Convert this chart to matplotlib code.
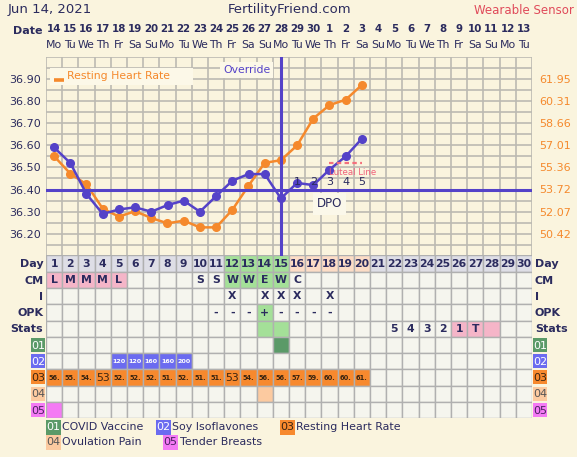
import numpy as np
import matplotlib
matplotlib.use("Agg")
import matplotlib.pyplot as plt
from matplotlib.patches import Rectangle

W, H = 577, 457

NAVY = "#2b2b5e"
BLUE = "#5442c8"
ORANGE = "#f5892c"
BG = "#faf4de"
CELL = "#f5f5ee"
EDGE = "#b0b0b0"
GRID = "#bcbab2"

days = list(range(1, 21))
date_nums = ["14", "15", "16", "17", "18", "19", "20", "21", "22", "23", "24", "25", "26", "27", "28",
             "29", "30", "1", "2", "3", "4", "5", "6", "7", "8", "9", "10", "11", "12", "13"]
weekdays = ["Mo", "Tu", "We", "Th", "Fr", "Sa", "Su", "Mo", "Tu", "We", "Th", "Fr", "Sa", "Su", "Mo",
            "Tu", "We", "Th", "Fr", "Sa", "Su", "Mo", "Tu", "We", "Th", "Fr", "Sa", "Su", "Mo", "Tu"]

temps = [36.59, 36.52, 36.38, 36.29, 36.31, 36.32, 36.30, 36.33, 36.35, 36.30,
         36.37, 36.44, 36.47, 36.47, 36.36, 36.43, 36.42, 36.49, 36.55, 36.63]
hr = [56.2, 54.9, 54.1, 52.3, 51.7, 52.1, 51.6, 51.2, 51.4, 50.9,
      50.9, 52.2, 54.0, 55.7, 55.9, 57.0, 59.0, 60.0, 60.4, 61.5]
hr_labels = ["56.", "55.", "54.", "53", "52.", "52.", "52.", "51.", "52.", "51.",
             "51.", "53", "54.", "56.", "56.", "57.", "59.", "60.", "60.", "61."]

temp_ticks = [36.20, 36.30, 36.40, 36.50, 36.60, 36.70, 36.80, 36.90]
hr_ticks = [50.42, 52.07, 53.72, 55.36, 57.01, 58.66, 60.31, 61.95]
coverline = 36.40
override_day = 15
dpo_days = [16, 17, 18, 19, 20]
dpo_nums = ["1", "2", "3", "4", "5"]
luteal_days = [18, 20]
luteal_temp = 36.52

cm_row = ["L", "M", "M", "M", "L", "", "", "", "", "S", "S", "W", "W", "E", "W", "C"] + [""] * 14
sex_days = [12, 14, 15, 16, 18]
opk_neg_days = [11, 12, 13, 15, 16, 17, 18]
opk_pos_days = [14]
stats_text = {22: "5", 23: "4", 24: "3", 25: "2", 26: "1", 27: "T"}
stats_pink = [26, 27, 28]
stats_green = [14, 15]
fertile_days = [12, 13, 14, 15]
luteal_hdr_days = [16, 17, 18, 19, 20]
covid_days = [15]
soy_days = [5, 6, 7, 8, 9]
soy_doses = ["120", "120", "160", "160", "200"]
ovpain_days = [14]
breast_days = [1]

row_names = ["Day", "CM", "I", "OPK", "Stats"]
codes = ["01", "02", "03", "04", "05"]
code_colors = ["#5b9a68", "#6b6bf0", "#f7892e", "#fccaa0", "#f47af4"]
code_text = ["white", "white", "#3a2410", "#555555", "#4a2060"]
legend_names = ["COVID Vaccine", "Soy Isoflavones", "Resting Heart Rate", "Ovulation Pain", "Tender Breasts"]


def px_rect(x0, y0, x1, y1):
    return [x0 / W, 1 - y1 / H, (x1 - x0) / W, (y1 - y0) / H]


def ftext(x, y, s, **kw):
    fig.text(x / W, 1 - y / H, s, **kw)


fig = plt.figure(figsize=(W / 100, H / 100), dpi=100, facecolor=BG)

# header
ftext(8, 10, "Jun 14, 2021", fontsize=9.5, color=NAVY, va="center")
ftext(290, 10, "FertilityFriend.com", fontsize=9.5, color=NAVY, va="center", ha="center")
ftext(574, 10, "Wearable Sensor", fontsize=8.5, color="#e04a5a", va="center", ha="right")
ftext(43, 31, "Date", fontsize=8, color=NAVY, fontweight="bold", va="center", ha="right")

x_left, x_right = 46, 532
col_w = (x_right - x_left) / 30
for i in range(30):
    cx = x_left + (i + 0.5) * col_w
    ftext(cx, 29, date_nums[i], fontsize=7.4, color=NAVY, fontweight="bold", ha="center", va="center")
    ftext(cx, 45, weekdays[i], fontsize=7.8, color=NAVY, ha="center", va="center")

# temperature chart
ax = fig.add_axes(px_rect(x_left, 56.7, x_right, 256))
ax.set_xlim(0.5, 30.5)
ax.set_ylim(36.10, 37.00)
ax.set_xticks([])
ax.set_yticks(temp_ticks)
ax.set_yticklabels([f"{t:.2f}" for t in temp_ticks], fontsize=8, color=NAVY)
ax.tick_params(which="both", length=0, pad=4)
for s in ax.spines.values():
    s.set_visible(False)

ax2 = ax.twinx()
ax2.set_ylim(48.77, 63.60)
ax2.set_yticks(hr_ticks)
ax2.set_yticklabels([f"{v:.2f}" for v in hr_ticks], fontsize=8, color=ORANGE)
ax2.tick_params(length=0, pad=5)
for s in ax2.spines.values():
    s.set_visible(False)

# grid lives on the lower axes so both series sit above it
ax.set_zorder(ax2.get_zorder() + 1)
ax.patch.set_visible(False)
ax2.patch.set_facecolor("#fbf6e2")
ax2.set_yticks(np.linspace(48.77, 63.60, 19), minor=True)
ax2.tick_params(which="minor", length=0)
ax2.grid(which="minor", axis="y", color=GRID, lw=1.2)
ax2.vlines(np.arange(0.5, 30.6, 1), 48.77, 63.60, color=GRID, lw=1.2, zorder=0.5)
ax2.set_axisbelow(True)

ax2.plot(days, hr, color=ORANGE, lw=1.8, marker="o", ms=5.5, zorder=3)
ax.axhline(coverline, color=BLUE, lw=2.2, zorder=4)
ax.axvline(override_day, color=BLUE, lw=2.2, zorder=4)
ax.plot(days, temps, color=BLUE, lw=1.8, marker="o", ms=5.5, zorder=5)

for d, n in zip(dpo_days, dpo_nums):
    ax.text(d, 36.433, n, fontsize=8, color=NAVY, ha="center", va="center", zorder=6)
ax.text(18, 36.335, "DPO", fontsize=8.5, color=NAVY, ha="center", va="center", zorder=6,
        bbox=dict(boxstyle="square,pad=0.35", fc="#fbf8ea", ec="none"))
ax.plot(luteal_days, [luteal_temp, luteal_temp], color="#f4707c", lw=1.6, ls=(0, (2, 1.5)), zorder=6)
ax.text(18 - 0.05, 36.478, "Luteal Line", fontsize=6.2, color="#f0607a", ha="left",
        va="center", zorder=6)

# resting heart rate key and override tag
ax.add_patch(Rectangle((0.75, 36.87), 8.8, 0.078, fc="#fcf8e8", ec="none", zorder=6))
ax.plot([0.99, 1.61], [36.893, 36.893], color=ORANGE, lw=2.6, zorder=7, solid_capstyle="butt")
ax.text(1.8, 36.912, "Resting Heart Rate", fontsize=7.8, color=ORANGE, ha="left", va="center", zorder=7)
ax.text(12.88, 36.94, "Override", fontsize=7.8, color=BLUE, ha="center", va="center", zorder=6,
        bbox=dict(boxstyle="square,pad=0.3", fc="#fcf8e8", ec="none"))

# data table
tb = fig.add_axes(px_rect(x_left, 255.5, x_right, 418))
tb.set_xlim(0, 30)
tb.set_ylim(10, 0)
tb.axis("off")


def cell(col, row, fc, text="", **kw):
    tb.add_patch(Rectangle((col, row), 1, 1, fc=fc, ec=EDGE, lw=1))
    if text:
        style = dict(fontsize=8, color=NAVY, fontweight="bold", ha="center", va="center")
        style.update(kw)
        tb.text(col + 0.5, row + 0.52, text, **style)


for c in range(30):
    d = c + 1
    hdr_color = "#dedee6"
    if d in fertile_days:
        hdr_color = "#a4e098"
    elif d in luteal_hdr_days:
        hdr_color = "#fcdcc6"
    cell(c, 0, hdr_color, str(d), fontsize=7.8)

    cm_color = CELL
    if cm_row[c] in ("L", "M"):
        cm_color = "#f5b5c8"
    elif d in fertile_days:
        cm_color = "#a4e098"
    cell(c, 1, cm_color, cm_row[c], fontsize=7.8)

    cell(c, 2, CELL, "X" if d in sex_days else "", fontsize=7.8)

    if d in opk_pos_days:
        cell(c, 3, "#a4e098", "+", fontsize=7.8)
    else:
        cell(c, 3, CELL, "-" if d in opk_neg_days else "", fontsize=7.8)

    st_color = CELL
    if d in stats_green:
        st_color = "#a4e098"
    elif d in stats_pink:
        st_color = "#f5b5c8"
    cell(c, 4, st_color, stats_text.get(d, ""), fontsize=7.8)

    cell(c, 5, code_colors[0] if d in covid_days else CELL)
    if d in soy_days:
        cell(c, 6, code_colors[1], soy_doses[soy_days.index(d)], fontsize=4.6, color="white")
    else:
        cell(c, 6, CELL)
    if d <= len(hr_labels):
        lab = hr_labels[d - 1]
        fs = 7.8 if "." not in lab else 4.8
        fw = "normal" if "." not in lab else "bold"
        cell(c, 7, code_colors[2], lab, fontsize=fs, color="#3a2410", fontweight=fw)
    else:
        cell(c, 7, CELL)
    cell(c, 8, code_colors[3] if d in ovpain_days else CELL)
    cell(c, 9, code_colors[4] if d in breast_days else CELL)

for r, name in enumerate(row_names):
    tb.text(-0.17, r + 0.55, name, fontsize=8, color=NAVY, fontweight="bold", ha="right", va="center",
            clip_on=False)
    tb.text(30.18, r + 0.55, name, fontsize=8, color=NAVY, fontweight="bold", ha="left", va="center",
            clip_on=False)

for k, code in enumerate(codes):
    r = 5 + k
    for x0 in (-0.93, 30.07):
        tb.add_patch(Rectangle((x0, r + 0.07), 0.88, 0.86, fc=code_colors[k], ec="none", clip_on=False))
        tb.text(x0 + 0.44, r + 0.55, code, fontsize=8, color=code_text[k], ha="center", va="center",
                clip_on=False)

# bottom legend
leg_pos = [(46, 427), (156, 427), (280, 427), (46, 442), (163, 442)]
for k, (lx, ly) in enumerate(leg_pos):
    fig.patches.append(Rectangle((lx / W, 1 - (ly + 7.5) / H), 15 / W, 15 / H, fc=code_colors[k], ec="none",
                                 transform=fig.transFigure, figure=fig))
    ftext(lx + 7.5, ly, codes[k], fontsize=8, color=code_text[k], ha="center", va="center")
    ftext(lx + 16.5, ly, legend_names[k], fontsize=7.9, color=NAVY, ha="left", va="center")

fig.savefig("out.png", dpi=100, facecolor=BG)
